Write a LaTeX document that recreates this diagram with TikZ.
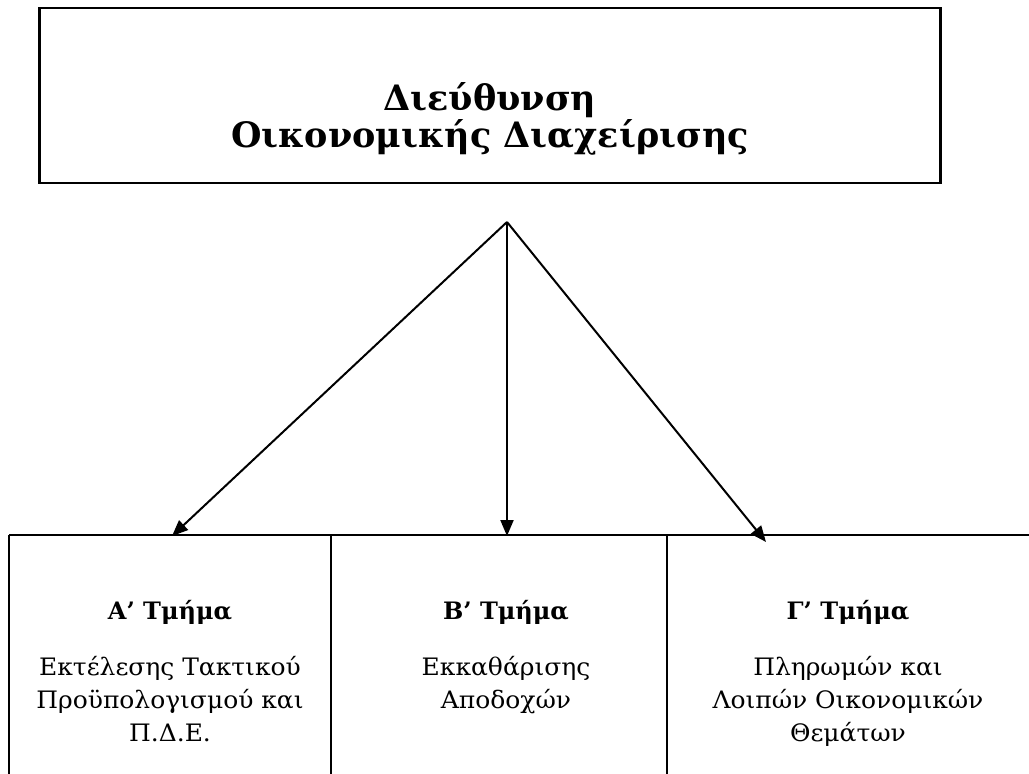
\documentclass[tikz,border=0pt]{standalone}
\usepackage{fontspec}
\setmainfont{DejaVu Serif}
\newfontfamily\bodyfont{DejaVu Serif}[FakeStretch=1.04]
\usetikzlibrary{arrows.meta}
\tikzset{
  boxline/.style={draw=black, line width=2.6pt},
  cellline/.style={draw=black, line width=2.2pt},
  conn/.style={draw=black, line width=2pt, -{Triangle[length=16pt,width=13pt]}},
  titletext/.style={align=center, font=\fontsize{35}{37}\selectfont\bfseries, inner sep=0pt},
  headtext/.style={align=center, font=\fontsize{24}{27}\selectfont\bfseries, inner sep=0pt},
  bodytext/.style={align=center, font=\bodyfont\fontsize{24}{33}\selectfont, inner sep=0pt}
}
\begin{document}
\begin{tikzpicture}[x=1pt,y=-1pt]
\useasboundingbox (0,0) rectangle (1029,774);
\fill[white] (0,0) rectangle (1029,774);
% top box
\node[boxline, minimum width=901pt, minimum height=175pt, inner sep=0pt] (dir) at (490,95.5) {};
\node[titletext] (dirtext) at (490,119) {Διεύθυνση\\Οικονομικής Διαχείρισης};
% table lines
\coordinate (tl) at (9,535);
\coordinate (tr) at (1029,535);
\coordinate (d1) at (331,535);
\coordinate (d2) at (667,535);
\coordinate (bl) at (9,774);
\coordinate (b1) at (331,774);
\coordinate (b2) at (667,774);
\draw[cellline] (tl) -- (tr);
\draw[cellline] (tl) -- (bl);
\draw[cellline] (d1) -- (b1);
\draw[cellline] (d2) -- (b2);
% apex and arrow targets
\coordinate (apex) at (507,222);
\coordinate (ta) at (172,536);
\coordinate (tb) at (507,536);
\coordinate (tc) at (766,542);
\draw[conn] (apex) -- (ta);
\draw[conn] (apex) -- (tb);
\draw[conn] (apex) -- (tc);
% headers
\node[headtext] (ha) at (170,612) {Α’ Τμήμα};
\node[headtext] (hb) at (506,612) {Β’ Τμήμα};
\node[headtext] (hc) at (848,612) {Γ’ Τμήμα};
% bodies
\node[bodytext, anchor=north] (ba) at (170,656) {Εκτέλεσης Τακτικού\\Προϋπολογισμού και\\Π.Δ.Ε.};
\node[bodytext, anchor=north] (bb) at (506,656) {Εκκαθάρισης\\Αποδοχών};
\node[bodytext, anchor=north] (bc) at (848,656) {Πληρωμών και\\Λοιπών Οικονομικών\\Θεμάτων};
\end{tikzpicture}
\end{document}
